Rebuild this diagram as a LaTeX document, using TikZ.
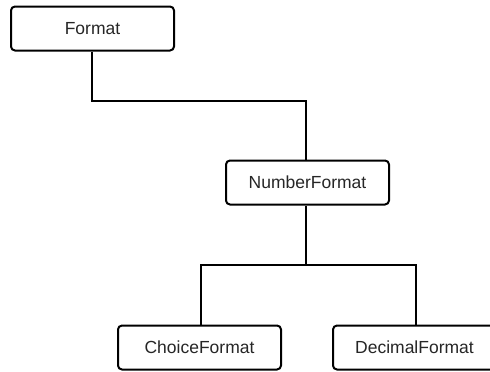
\documentclass[tikz,border=0pt]{standalone}
\usepackage{fontspec}
\setmainfont{Liberation Sans}
\begin{document}
\begin{tikzpicture}[x=1pt,y=-1pt,
  cls/.style={draw=black,line width=2pt,rounded corners=4pt,fill=white,
    minimum width=163pt,minimum height=44pt,inner sep=0pt,
    font=\fontsize{17.5}{20}\selectfont,text=black!85},
  conn/.style={draw=black,line width=2.2pt}]
\clip (0,0) rectangle (490,372);
\fill[white] (0,0) rectangle (490,372);
\node[cls] (f) at (92.5,28.5) {Format};
\node[cls] (nf) at (307.5,182.5) {NumberFormat};
\node[cls] (cf) at (199.5,347.5) {ChoiceFormat};
\node[cls] (df) at (414.5,347.5) {DecimalFormat};
\coordinate (j1) at (200,101);
\coordinate (j2) at (300,265);
\draw[conn] (f.south -| 92,0) |- (j1) -| (nf.north -| 306,0);
\draw[conn] (nf.south -| 306,0) |- (j2) -| (cf.north -| 201,0);
\draw[conn] (j2) -| (df.north -| 416,0);
\end{tikzpicture}
\end{document}
